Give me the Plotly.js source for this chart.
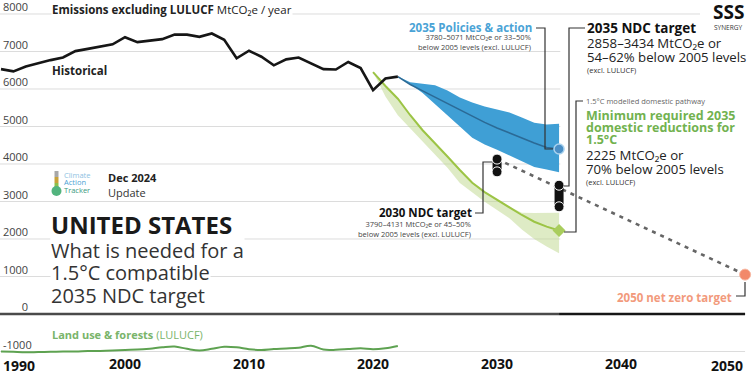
<!DOCTYPE html>
<html><head><meta charset="utf-8">
<script src="https://cdn.plot.ly/plotly-3.0.1.min.js"></script>
<style>html,body{margin:0;padding:0;background:#fff}#chart{width:755px;height:376px}</style>
</head><body><div id="chart"></div>
<script>
// ---------------- DATA ----------------
const histYears = [1990,1991,1992,1993,1994,1995,1996,1997,1998,1999,2000,2001,2002,2003,2004,2005,2006,2007,2008,2009,2010,2011,2012,2013,2014,2015,2016,2017,2018,2019,2020,2021,2022];
const histValues = [6530,6470,6600,6690,6770,6840,7010,7070,7130,7190,7380,7250,7290,7330,7450,7450,7390,7480,7310,6820,7020,6860,6630,6790,6840,6690,6530,6520,6720,6560,5970,6280,6330];
const lulucfValues = [-1000,-1010,-1020,-1015,-1010,-1000,-1000,-990,-985,-975,-960,-950,-925,-890,-870,-930,-975,-930,-875,-890,-940,-960,-935,-920,-900,-845,-950,-955,-935,-915,-940,-915,-855];

const policyYears = [2022,2023,2024,2025,2026,2027,2028,2029,2030,2031,2032,2033,2034,2035];
const policyUpper = [6330,6180,6140,6100,5960,5770,5640,5530,5450,5370,5240,5100,5050,5071];
const policyLower = [6330,6130,5890,5600,5300,5000,4700,4520,4380,4230,4060,3920,3850,3780];
const policyMid   = [6330,6120,5950,5780,5600,5440,5280,5110,4960,4820,4690,4560,4440,4400];

const pathYears = [2020,2021,2022,2023,2024,2025,2026,2027,2028,2029,2030,2031,2032,2033,2034,2035];
const pathLine  = [6450,6080,5740,5300,4900,4560,4200,3840,3500,3250,3040,2840,2640,2460,2330,2225];
const pathUpper = [6450,6080,5740,5300,4900,4560,4200,3840,3500,3250,3040,2860,2700,2690,2695,2700];
const pathLower = [6450,5800,5300,4950,4620,4250,3900,3490,3230,2990,2770,2550,2250,2000,1800,1620];

const ndc2030 = {year: 2030, low: 3790, high: 4131};
const ndc2035 = {year: 2035, low: 2858, high: 3434};
const policy2035 = {year: 2035, value: 4400};
const min2035 = {year: 2035, value: 2225};
const netZero = {year: 2050, value: 1050};
const trajYears = [2030, 2050];
const trajValues = [4131, 1050];

const yTicks = [-1000,0,1000,2000,3000,4000,5000,6000,7000];
const yTopTick = 8000;
const xTicks = [2000,2010,2020,2030,2040];
const xEdgeTicks = [1990, 2050];

// ---------------- LAYOUT HELPERS ----------------
const W = 755, H = 376, MB = 22, PH = H - MB;
const X0 = 1989.92, X1 = 2050.8;
const YT = 8373, YB = YT - PH / 0.0375;
const px2x = p => X0 + p / W * (X1 - X0);
const px2y = p => YT - p / PH * (YT - YB);
const FONT = '"Open Sans", "DejaVu Sans", sans-serif';

const traces = [];
// Policies band
traces.push({x: policyYears, y: policyLower, mode:'lines', line:{width:0, color:'#3f9fd5'}, hoverinfo:'skip', showlegend:false});
traces.push({x: policyYears, y: policyUpper, mode:'lines', fill:'tonexty', fillcolor:'#3f9fd5', line:{width:0, color:'#3f9fd5'}, hoverinfo:'skip', showlegend:false});
traces.push({x: policyYears, y: policyMid, mode:'lines', line:{width:1.6, color:'#2b6a96'}, showlegend:false});
// 1.5C band
traces.push({x: pathYears, y: pathLower, mode:'lines', line:{width:0, color:'#dbe9bd'}, hoverinfo:'skip', showlegend:false});
traces.push({x: pathYears, y: pathUpper, mode:'lines', fill:'tonexty', fillcolor:'rgba(190,216,140,0.5)', line:{width:0}, hoverinfo:'skip', showlegend:false});
traces.push({x: pathYears, y: pathLine, mode:'lines', line:{width:2, color:'#9cc445'}, showlegend:false});
// Historical
traces.push({x: histYears, y: histValues, mode:'lines', line:{width:2.6, color:'#161616'}, showlegend:false});
// LULUCF
traces.push({x: histYears, y: lulucfValues, mode:'lines', line:{width:2, color:'#5ea251', shape:'spline'}, showlegend:false});
// Trajectory dashed
traces.push({x: trajYears, y: trajValues, mode:'lines', line:{width:2.6, color:'#666', dash:'4px,5px'}, showlegend:false});
// NDC capsules
[ndc2030, ndc2035].forEach(n => {
  traces.push({x:[n.year,n.year], y:[n.low,n.high], mode:'lines', line:{width:9, color:'#111'}, showlegend:false});
  traces.push({x:[n.year,n.year], y:[n.low,n.high], mode:'markers', marker:{size:10, color:'#111', line:{width:1, color:'#fff'}}, showlegend:false});
});
// Points
traces.push({x:[policy2035.year], y:[policy2035.value], mode:'markers', marker:{size:10, color:'#4a8fc6', line:{width:1.5, color:'#a9d2ee'}}, showlegend:false});
traces.push({x:[min2035.year], y:[min2035.value], mode:'markers', marker:{size:10, symbol:'diamond', color:'#a9cd5d', line:{width:0}}, showlegend:false});
traces.push({x:[netZero.year], y:[netZero.value], mode:'markers', marker:{size:11, color:'#f2896a', line:{width:1, color:'#f8b9a4'}}, showlegend:false});

// ---------------- SHAPES ----------------
const shapes = [];
const gridShort = [2000,3000,4000,5000,6000,7000];
const gridLong = [-1000, 1000];
gridShort.forEach(v => shapes.push({type:'line', layer:'below', xref:'x', yref:'y', x0:X0, x1:2035.1, y0:v, y1:v, line:{color:'#dcdcdc', width:1}}));
gridLong.forEach(v => shapes.push({type:'line', layer:'below', xref:'x', yref:'y', x0:X0, x1:2050, y0:v, y1:v, line:{color:'#dcdcdc', width:1}}));
shapes.push({type:'line', layer:'below', xref:'x', yref:'y', x0:X0, x1:px2x(700), y0:yTopTick, y1:yTopTick, line:{color:'#dcdcdc', width:1}});
// zero line
shapes.push({type:'line', layer:'below', xref:'x', yref:'y', x0:X0, x1:2035, y0:0, y1:0, line:{color:'#4a4a4a', width:2.6}});
shapes.push({type:'line', layer:'below', xref:'x', yref:'y', x0:2035, x1:2050, y0:0, y1:0, line:{color:'#161616', width:2.6}});
// connectors
function path(pts){ // pts in pixels
  return {type:'path', xref:'x', yref:'y', line:{color:'#333', width:1.2},
    path: pts.map((p,i)=> (i?'L':'M') + px2x(p[0]) + ',' + px2y(p[1])).join(' ')};
}
shapes.push(path([[536,28],[545,28],[545,149],[553,149]]));
shapes.push(path([[585,28],[569,28],[569,186],[564,186]]));
shapes.push(path([[583,101],[576,101],[576,232],[564,232]]));
shapes.push(path([[475,213],[483,213],[483,162],[492,162]]));
shapes.push(path([[736,296],[745,296],[745,282]]));
// CAT logo icon
function rectPx(x0,y0,x1,y1,c,type){return {type:type||'rect', xref:'x', yref:'y', x0:px2x(x0), x1:px2x(x1), y0:px2y(y0), y1:px2y(y1), fillcolor:c, line:{width:0}};}
shapes.push(rectPx(54.5,171,58.5,177,'#a8a8a8'));
shapes.push(rectPx(54.5,177,58.5,183,'#c8a23a'));
shapes.push(rectPx(54.5,183,58.5,189,'#8cbf4a'));
shapes.push(rectPx(51.5,186,61.5,196,'#52b47e','circle'));

// ---------------- ANNOTATIONS ----------------
const anns = [];
function A(text, px, py, size, opts){
  opts = opts || {};
  anns.push(Object.assign({text:text, x:px2x(px), y:px2y(py), xref:'x', yref:'y', showarrow:false,
    xanchor: opts.anchor || 'left', yanchor:'middle', borderpad:0,
    align: opts.align || (opts.anchor === 'right' ? 'right' : 'left'),
    font:{family:FONT, size:size, color: opts.color || '#222', weight: opts.weight || 'normal'}},
    opts.bg ? {bgcolor:opts.bg} : {}));
}
// top y tick label (kept separately so it is not pushed inside the plot)
anns.push({text:String(yTopTick), x:0, y:yTopTick, xref:'paper', yref:'y', xanchor:'left', yanchor:'bottom', xshift:2, yshift:-1,
  showarrow:false, borderpad:0, font:{family:FONT, size:11, color:'#444'}});
A('<b>Emissions excluding LULUCF</b> MtCO₂e / year', 51, 9, 11.5, {color:'#222', bg:'#fff'});
A('<b>Historical</b>', 51, 70, 11.5, {color:'#222'});
A('Climate', 63, 175, 7.5, {color:'#8ec2e2'});
A('Action', 63, 182, 7.5, {color:'#4b9fd3'});
A('Tracker', 63, 189.5, 7.5, {color:'#3a9a80'});
A('<b>Dec 2024</b>', 107, 177, 11, {color:'#222'});
A('Update', 107, 192, 11, {color:'#333'});
A('<b>UNITED STATES</b>', 50, 224, 24, {color:'#1a1a1a', bg:'#fff'});
A('What is needed for a', 50, 250, 20, {color:'#333', bg:'#fff'});
A('1.5°C compatible', 50, 272, 20, {color:'#333', bg:'#fff'});
A('2035 NDC target', 50, 295, 20, {color:'#333', bg:'#fff'});
A('<b>Land use & forests</b> (LULUCF)', 51, 334, 11, {color:'#79b46a'});

A('<b>2035 Policies & action</b>', 533, 27, 11.5, {anchor:'right', color:'#4aa3d6'});
A('3780–5071 MtCO₂e or 33–50%<br>below 2005 levels (excl. LULUCF)', 532, 42, 7.5, {anchor:'right', color:'#444'});

A('<b>2035 NDC target</b>', 586, 28, 13.5, {color:'#111'});
A('2858–3434 MtCO₂e or', 586, 43, 13.2, {color:'#222'});
A('54–62% below 2005 levels', 586, 57, 13.2, {color:'#222'});
A('(excl. LULUCF)', 586, 70, 7.5, {color:'#333'});

A('1.5°C modelled domestic pathway', 585, 101, 7.5, {color:'#666'});
A('<b>Minimum required 2035</b>', 585, 115, 12.5, {color:'#72b24f'});
A('<b>domestic reductions for</b>', 585, 127, 12.5, {color:'#72b24f'});
A('<b>1.5°C</b>', 585, 139, 12.5, {color:'#72b24f'});
A('2225 MtCO₂e or', 585, 155, 13.2, {color:'#222'});
A('70% below 2005 levels', 585, 169, 13.2, {color:'#222'});
A('(excl. LULUCF)', 585, 182, 7.5, {color:'#333'});

A('<b>2030 NDC target</b>', 473, 212.5, 11.5, {anchor:'right', color:'#111'});
A('3790–4131 MtCO₂e or 45–50%<br>below 2005 levels (excl. LULUCF)', 472, 229, 7.5, {anchor:'right', color:'#444'});

A('<b>2050 net zero target</b>', 733, 297, 11.5, {anchor:'right', color:'#f29a7c'});

// Synergy logo
A('<b>SSS</b>', 728, 12, 19, {anchor:'center', color:'#111'});
A('SYNERGY', 728, 27, 6.5, {anchor:'center', color:'#333'});

// edge x tick labels
xEdgeTicks.forEach((yr,i) => anns.push({text:'<b>'+yr+'</b>', x:yr, y:0, xref:'x', yref:'paper', yanchor:'top', yshift:0,
  xanchor: i===0 ? 'left' : 'right', showarrow:false, font:{family:FONT, size:14, color:'#111'}}));

const fs = '\u2007';
const yText = yTicks.map(v => { const s = String(v); return (s.length < 4 ? fs.repeat(4 - s.length) : '') + s; });

const layout = {
  width: W, height: H, margin:{l:0, r:0, t:0, b:MB, pad:0},
  paper_bgcolor:'#fff', plot_bgcolor:'#fff', showlegend:false,
  font:{family:FONT},
  xaxis:{range:[X0, X1], tickvals:xTicks, ticktext:xTicks.map(String), showgrid:false, zeroline:false, showline:false,
    ticks:'', tickfont:{family:FONT, size:14, color:'#111', weight:'bold'}, fixedrange:true},
  yaxis:{range:[YB, YT], tickvals:yTicks, ticktext:yText, showgrid:false, zeroline:false, showline:false,
    ticks:'', ticklabelposition:'inside top', ticklabeloverflow:'allow', ticklabelshift:1,
    tickfont:{family:FONT, size:11, color:'#444'}, fixedrange:true},
  shapes: shapes, annotations: anns
};
Plotly.newPlot('chart', traces, layout, {displayModeBar:false, staticPlot:true});
</script></body></html>
